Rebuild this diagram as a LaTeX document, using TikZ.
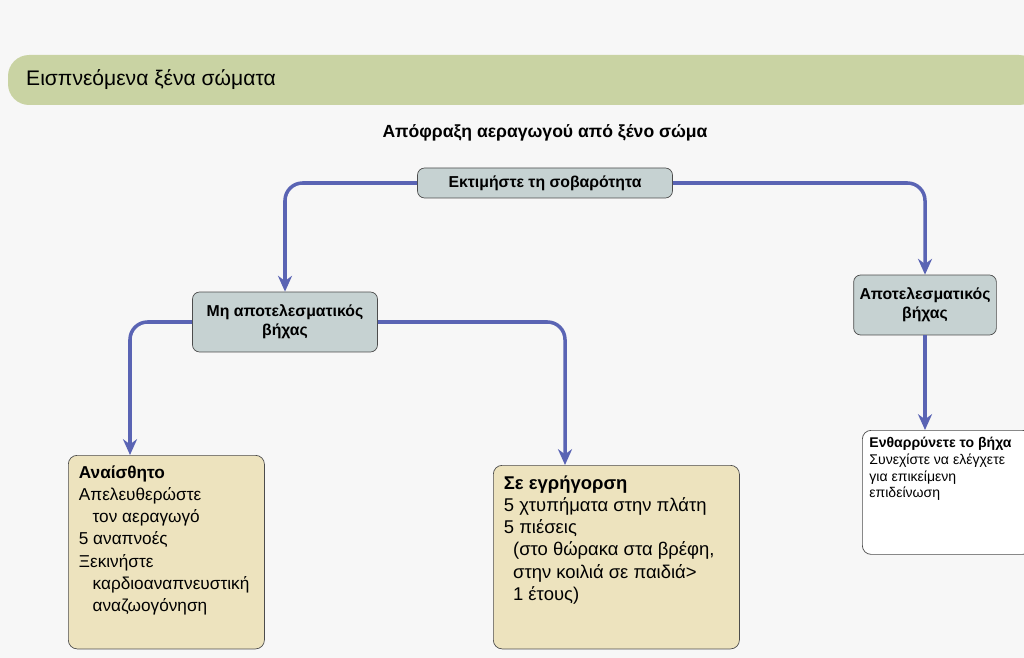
\documentclass[tikz,border=0pt]{standalone}
\usepackage{fontspec}
\setmainfont{Liberation Sans}
\usetikzlibrary{arrows.meta}
\definecolor{bandgreen}{HTML}{C9D3A3}
\definecolor{boxgray}{HTML}{C6D2D2}
\definecolor{boxbeige}{HTML}{EDE3BE}
\definecolor{linkblue}{HTML}{5A64B4}
\newcommand{\actext}[3]{\parbox[c][#1][t]{#2}{#3}}
\tikzset{
  headbox/.style={draw=black!70, fill=boxgray, rounded corners=4pt, align=center, font=\bfseries\small},
  actbox/.style={draw=black!70, rounded corners=5pt, anchor=north west, font=\fontsize{10.5}{12.6}\selectfont, inner sep=6pt},
  link/.style={draw=linkblue, line width=2pt, rounded corners=10pt, -{Stealth[length=9pt,width=8pt]}}
}
\begin{document}
\begin{tikzpicture}[x=0.02cm, y=-0.02cm]
\useasboundingbox (0,0) rectangle (1024,658);
\fill[black!3] (0,0) rectangle (1024,658);
% header band
\fill[bandgreen, rounded corners=12pt] (8,55) rectangle (1040,105);
\node[anchor=west, font=\large] (band) at (20,80) {Εισπνεόμενα ξένα σώματα};
\node[font=\bfseries] (title) at (545,133) {Απόφραξη αεραγωγού από ξένο σώμα};
% boxes
\node[headbox, minimum width=5.1cm, minimum height=0.6cm] (assess) at (545,183) {Εκτιμήστε τη σοβαρότητα};
\node[headbox, minimum width=3.7cm, minimum height=1.2cm] (weak) at (285,322) {Μη αποτελεσματικός\\βήχας};
\node[headbox, minimum width=2.0cm, minimum height=1.2cm] (strong) at (925,305) {Αποτελεσματικός\\βήχας};
\node[actbox, fill=boxbeige, font=\fontsize{9.8}{12.6}\selectfont] (uncon) at (68,455)
  {\actext{3.45cm}{3.5cm}{\textbf{Αναίσθητο}\\Απελευθερώστε\\\hspace*{0.8em}τον αεραγωγό\\5 αναπνοές\\Ξεκινήστε\\\hspace*{0.8em}καρδιοαναπνευστική\\\hspace*{0.8em}αναζωογόνηση}};
\node[actbox, fill=boxbeige] (alert) at (493,465)
  {\actext{3.25cm}{4.5cm}{\textbf{Σε εγρήγορση}\\5 χτυπήματα στην πλάτη\\5 πιέσεις\\\hspace*{0.5em}(στο θώρακα στα βρέφη,\\\hspace*{0.5em}στην κοιλιά σε παιδιά>\\\hspace*{0.5em}1 έτους)}};
\node[actbox, fill=white, font=\footnotesize, inner sep=4pt] (cough) at (862,430)
  {\actext{2.2cm}{3.1cm}{\textbf{Ενθαρρύνετε το βήχα}\\Συνεχίστε να ελέγχετε\\για επικείμενη\\επιδείνωση}};
% connectors
\draw[link] (assess.west) -| (weak.north);
\draw[link] (assess.east) -| (strong.north);
\draw[link] (weak.west) -| (uncon.north west -| 130,0);
\draw[link] (weak.east) -| (alert.north west -| 565,0);
\draw[link] (strong.south) -- (strong.south |- cough.north);
\end{tikzpicture}
\end{document}
